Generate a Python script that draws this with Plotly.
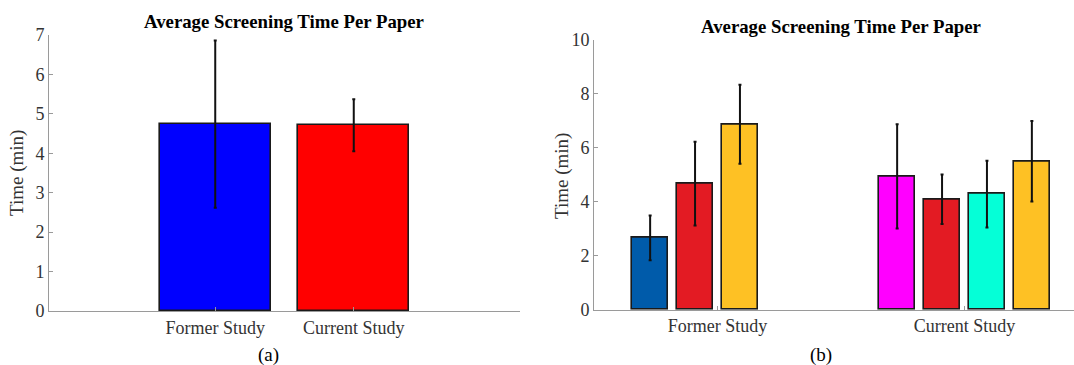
import plotly.graph_objects as go

# ---------------- data ----------------
# (a) overall average screening time per paper
cats_a = ["Former Study", "Current Study"]
mean_a = [4.74, 4.71]
err_a = [2.12, 0.66]
colors_a = ["#0000FF", "#FF0000"]

# (b) per-group breakdown; each study has up to four grouped bars
cats_b = ["Former Study", "Current Study"]
former_mean = [2.66, 4.67, 6.87]
former_err = [0.83, 1.55, 1.46]
former_colors = ["#005BAA", "#E31B23", "#FEC124"]
current_mean = [4.94, 4.09, 4.28, 5.50]
current_err = [1.93, 0.92, 1.24, 1.49]
current_colors = ["#FF00FF", "#E31B23", "#05FFD7", "#FEC124"]

yticks_a = [0, 1, 2, 3, 4, 5, 6, 7]
yticks_b = [0, 2, 4, 6, 8, 10]

FONT = "Liberation Serif"
AXIS_GREY = "#9a9a9a"
TEXT = "#333333"

fig = go.Figure()

# ---------------- panel (a) ----------------
xa = list(range(1, len(cats_a) + 1))
fig.add_trace(go.Bar(
    x=xa, y=mean_a, width=0.8,
    marker=dict(color=colors_a, line=dict(color="#1a1a1a", width=1.6)),
    error_y=dict(type="data", array=err_a, color="#111111", thickness=2, width=1.5),
    xaxis="x", yaxis="y", showlegend=False,
))

# ---------------- panel (b) ----------------
# grouped layout: 4 slots per category, slot spacing = groupwidth / 4
n_slots = 4
group_width = min(0.8, n_slots / (n_slots + 1.5))
slot = group_width / n_slots
bar_w = slot * 0.8
offsets = [(i - (n_slots - 1) / 2) * slot for i in range(n_slots)]

groups = [(1, former_mean, former_err, former_colors),
          (2, current_mean, current_err, current_colors)]
for pos, means, errs, cols in groups:
    for i, (m, e, c) in enumerate(zip(means, errs, cols)):
        fig.add_trace(go.Bar(
            x=[pos + offsets[i]], y=[m], width=bar_w,
            marker=dict(color=c, line=dict(color="#1a1a1a", width=1.6)),
            error_y=dict(type="data", array=[e], color="#111111", thickness=2, width=1.5),
            xaxis="x2", yaxis="y2", showlegend=False,
        ))

axis_common = dict(
    showgrid=False, zeroline=False, showline=True, linecolor=AXIS_GREY, linewidth=1,
    ticks="inside", ticklen=4, tickcolor=AXIS_GREY, automargin=False,
    tickfont=dict(family=FONT, size=18, color=TEXT),
)

fig.update_layout(
    width=1074, height=365,
    margin=dict(l=0, r=0, t=0, b=0, autoexpand=False),
    paper_bgcolor="white", plot_bgcolor="white",
    bargap=0,
    xaxis=dict(axis_common, domain=[49 / 1074, 520 / 1074], range=[-0.2, 3.2],
               tickvals=xa, ticktext=cats_a, anchor="y"),
    yaxis=dict(axis_common, domain=[1 - 311 / 365, 1 - 35 / 365], range=[0, 7],
               tickvals=yticks_a, anchor="x"),
    xaxis2=dict(axis_common, domain=[594 / 1074, 1.0], range=[0.5, 0.5 + 480 / 247],
                tickvals=[1, 2], ticktext=cats_b, anchor="y2"),
    yaxis2=dict(axis_common, domain=[1 - 309.7 / 365, 1 - 39.7 / 365], range=[0, 10],
                tickvals=yticks_b, anchor="x2"),
)

title_font = dict(family=FONT, size=18.8, color="#000000")
label_font = dict(family=FONT, size=19, color=TEXT)
cap_font = dict(family=FONT, size=19, color="#000000")

annotations = [
    dict(text="<b>Average Screening Time Per Paper</b>", x=284 / 1074, y=1 - 22 / 365,
         font=title_font),
    dict(text="<b>Average Screening Time Per Paper</b>", x=841 / 1074, y=1 - 26.5 / 365,
         font=title_font),
    dict(text="Time (min)", x=17 / 1074, y=1 - 173 / 365, textangle=-90, font=label_font),
    dict(text="Time (min)", x=562 / 1074, y=1 - 176 / 365, textangle=-90, font=label_font),
    dict(text="(a)", x=268 / 1074, y=1 - 355 / 365, font=cap_font),
    dict(text="(b)", x=821 / 1074, y=1 - 355 / 365, font=cap_font),
]
for a in annotations:
    fig.add_annotation(xref="paper", yref="paper", xanchor="center", yanchor="middle",
                       showarrow=False, **a)

fig.write_html("out.html")
